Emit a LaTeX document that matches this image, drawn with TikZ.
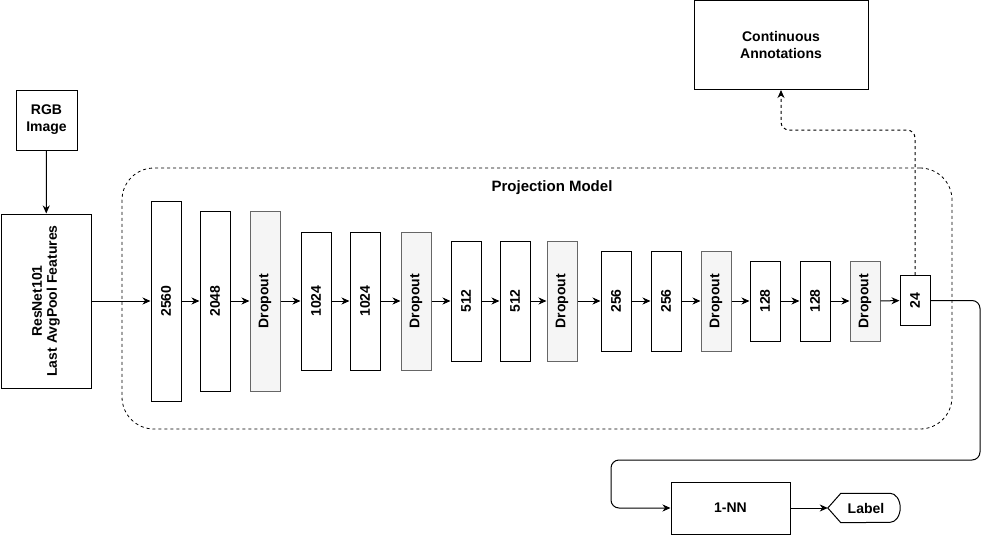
\documentclass[tikz,border=0pt]{standalone}
\usepackage{fontspec}
\setmainfont{Liberation Sans}
\usetikzlibrary{arrows.meta,calc}
\definecolor{dropfill}{RGB}{245,245,245}
\definecolor{dropdraw}{RGB}{102,102,102}
\tikzset{
  every node/.style={font=\fontsize{14}{17}\selectfont\bfseries, inner sep=0pt, align=center},
  box/.style={draw=black, line width=1pt, fill=white, minimum width=30pt},
  dropbox/.style={draw=dropdraw, line width=1pt, fill=dropfill, minimum width=30pt},
  arr/.style={line width=1pt, -{Stealth[length=8pt,width=7pt,inset=2.5pt]}},
  dasharr/.style={arr, dash pattern=on 3pt off 3pt},
}
\begin{document}
\begin{tikzpicture}[x=1pt,y=-1pt]
\useasboundingbox (0,0) rectangle (989,541);
% projection model frame
\node[draw=black, line width=0.8pt, dash pattern=on 3pt off 3pt, rounded corners=32pt,
      minimum width=830pt, minimum height=261pt] (proj) at (537,298.5) {};
\node[font=\fontsize{15}{18}\selectfont\bfseries] (projtitle) at (552,188) {Projection Model};
% inputs
\node[box, minimum width=61pt, minimum height=60pt] (rgb) at (46.5,120) {RGB\\Image};
\node[box, minimum width=90pt, minimum height=174pt] (resnet) at (46,301)
  {\rotatebox{90}{\begin{tabular}{@{}c@{}}ResNet101\\[-2pt]Last AvgPool Features\end{tabular}}};
% layers
\node[box, minimum height=200pt] (b1) at (166,301) {\rotatebox{90}{2560}};
\node[box, minimum height=180pt] (b2) at (215,301) {\rotatebox{90}{2048}};
\node[dropbox, minimum height=180pt] (d1) at (265,301) {\rotatebox{90}{Dropout}};
\node[box, minimum height=138pt] (b3) at (316,301) {\rotatebox{90}{1024}};
\node[box, minimum height=138pt] (b4) at (365,301) {\rotatebox{90}{1024}};
\node[dropbox, minimum height=138pt] (d2) at (416,301) {\rotatebox{90}{Dropout}};
\node[box, minimum height=120pt] (b5) at (466,301) {\rotatebox{90}{512}};
\node[box, minimum height=120pt] (b6) at (515,301) {\rotatebox{90}{512}};
\node[dropbox, minimum height=120pt] (d3) at (562,301) {\rotatebox{90}{Dropout}};
\node[box, minimum height=100pt] (b7) at (616,301) {\rotatebox{90}{256}};
\node[box, minimum height=100pt] (b8) at (666,301) {\rotatebox{90}{256}};
\node[dropbox, minimum height=100pt] (d4) at (716,301) {\rotatebox{90}{Dropout}};
\node[box, minimum height=80pt] (b9) at (765,301) {\rotatebox{90}{128}};
\node[box, minimum height=80pt] (b10) at (815,301) {\rotatebox{90}{128}};
\node[dropbox, minimum height=80pt] (d5) at (865,301) {\rotatebox{90}{Dropout}};
\node[box, minimum height=50pt] (b11) at (915,300.5) {\rotatebox{90}{24}};
% outputs
\node[box, minimum width=174pt, minimum height=89pt] (annot) at (781,45) {Continuous\\Annotations};
\node[box, minimum width=119pt, minimum height=52pt] (nn) at (730.5,508) {1-NN};
\node[minimum width=72pt, minimum height=29pt] (lbl) at (864,508) {\hspace*{4pt}Label};
\draw[line width=1pt] (lbl.west) -- ([xshift=13pt]lbl.north west) -- ([xshift=-10pt]lbl.north east)
  arc[start angle=90, end angle=-90, x radius=10pt, y radius=14.5pt]
  -- ([xshift=13pt]lbl.south west) -- cycle;
% helper coordinates
\coordinate (up) at (0,130);
\coordinate (r1) at (980,460);
\coordinate (r2) at (611,460);
% connectors
\draw[arr] (rgb) -- (resnet);
\draw[arr] (resnet) -- (b1);
\draw[arr] (b1) -- (b2);
\draw[arr] (b2) -- (d1);
\draw[arr] (d1) -- (b3);
\draw[arr] (b3) -- (b4);
\draw[arr] (b4) -- (d2);
\draw[arr] (d2) -- (b5);
\draw[arr] (b5) -- (b6);
\draw[arr] (b6) -- (d3);
\draw[arr] (d3) -- (b7);
\draw[arr] (b7) -- (b8);
\draw[arr] (b8) -- (d4);
\draw[arr] (d4) -- (b9);
\draw[arr] (b9) -- (b10);
\draw[arr] (b10) -- (d5);
\draw[arr] (d5) -- (b11);
\draw[dasharr, rounded corners=8pt] (b11.north) -- (b11.north |- up) -- (annot.south |- up) -- (annot.south);
\draw[arr, rounded corners=8pt] (b11.east) -- (b11.east -| r1) -- (r1) -- (r2) -- (r2 |- nn.west) -- (nn.west);
\draw[arr] (nn) -- (lbl.west);
\end{tikzpicture}
\end{document}
